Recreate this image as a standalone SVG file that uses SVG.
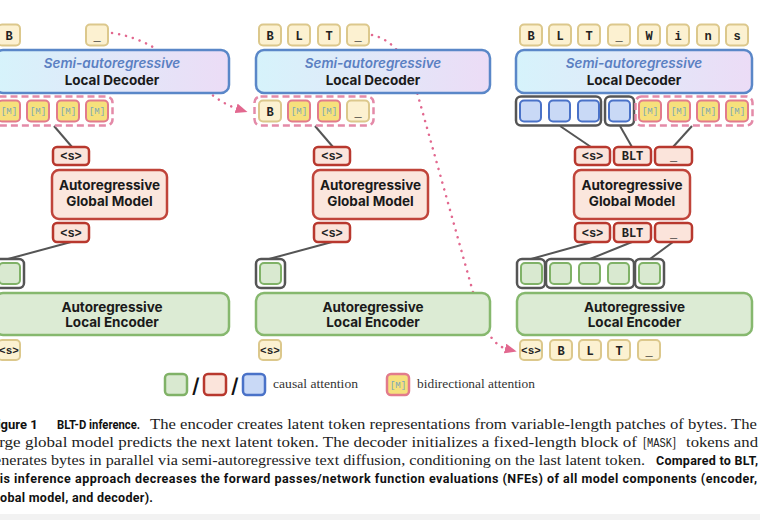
<svg xmlns="http://www.w3.org/2000/svg" width="760" height="520" viewBox="0 0 760 520">
<defs>
<linearGradient id="dg" x1="0" y1="0" x2="1" y2="0">
<stop offset="0" stop-color="#d6f3fb"/>
<stop offset="1" stop-color="#ecdcf6"/>
</linearGradient>
<marker id="ah" viewBox="0 0 12 10" refX="2" refY="5" markerWidth="12" markerHeight="10" markerUnits="userSpaceOnUse" orient="auto">
<path d="M0,0 L12,5 L0,10 z" fill="#e2688f"/>
</marker>
<style>
.tok{fill:#fcf1d1;stroke:#dcc88c;stroke-width:2}
.msk{fill:#f6e07c;stroke:#e27b8c;stroke-width:2}
.red{fill:#fbe4db;stroke:#b8382e;stroke-width:2.5}
.grn{fill:#d9e9d0;stroke:#80b267;stroke-width:2}
.blu{fill:#c9d9f6;stroke:#4a72c8;stroke-width:2}
.grp{fill:none;stroke:#555;stroke-width:2.5}
.dash{fill:none;stroke:#e48aa8;stroke-width:2.5;stroke-dasharray:7 4}
.dec{fill:url(#dg);stroke:#5a87c8;stroke-width:2.5}
.glob{fill:#fbe6dd;stroke:#c0443a;stroke-width:2.5}
.enc{fill:#dcebd4;stroke:#86b86e;stroke-width:2.5}
.tt{font-family:"Liberation Mono",monospace;font-weight:bold;font-size:12px;fill:#222;text-anchor:middle}
.mt{font-family:"Liberation Mono",monospace;font-size:9px;fill:#78a7b8;text-anchor:middle}
.lab{font-family:Inter,"DejaVu Sans",sans-serif;font-weight:700;font-size:13.5px;fill:#1a1a1a;text-anchor:middle}
.ital{font-style:italic;font-weight:600;fill:#5b80c2}
.link{stroke:#555;stroke-width:2;fill:none}
.dot{stroke:#e2688f;stroke-width:2.5;stroke-dasharray:0.1 7;stroke-linecap:round;fill:none}
.ser{font-family:"Liberation Serif",serif;font-size:15px;fill:#222}
.bs{font-family:Roboto,"Liberation Sans",sans-serif;font-weight:700;font-size:12.5px;fill:#111}
.leg{font-family:"Liberation Serif",serif;font-size:12.5px;fill:#333}
</style>
</defs>
<rect x="0" y="0" width="760" height="520" fill="#ffffff"/>
<rect x="0" y="514" width="760" height="6" fill="#f2f2f2"/>

<!-- connectors -->
<g id="connectors">
<line class="link" x1="54" y1="126" x2="72" y2="147"/>
<line class="link" x1="71" y1="242" x2="8" y2="259"/>
<line class="link" x1="315" y1="126" x2="333" y2="147"/>
<line class="link" x1="332" y1="242" x2="269" y2="259"/>
<line class="link" x1="560" y1="126" x2="591" y2="147"/>
<line class="link" x1="620" y1="126" x2="632" y2="147"/>
<line class="link" x1="692" y1="126" x2="673" y2="147"/>
<line class="link" x1="592" y1="242" x2="531" y2="259"/>
<line class="link" x1="632" y1="242" x2="590" y2="259"/>
<line class="link" x1="673" y1="242" x2="650" y2="259"/>
<path class="dot" d="M112,33 C175,42 195,95 238,109" marker-end="url(#ah)"/>
<path class="dot" d="M372,35 C395,40 408,62 415,85 L478,310 C486,333 495,346 507,349" marker-end="url(#ah)"/>
</g>

<!-- LEFT COLUMN -->
<g id="L-out">
<rect class="tok" x="-2" y="24.5" width="22" height="21" rx="4"/><text class="tt" x="9" y="39.5">B</text>
<rect class="tok" x="86" y="24.5" width="22" height="21" rx="4"/><text class="tt" x="97" y="39.5">_</text>
</g>
<g id="L-decoder">
<rect class="dec" x="-5" y="50" width="234" height="43" rx="8"/>
<text class="lab ital" x="112" y="68">Semi-autoregressive</text>
<text class="lab" x="112" y="85">Local Decoder</text>
</g>
<g id="L-mask">
<rect class="dash" x="-6.5" y="96.5" width="119" height="29" rx="6"/>
<rect class="msk" x="-2" y="100.5" width="22" height="21" rx="4"/><text class="mt" x="9" y="114">[M]</text>
<rect class="msk" x="27" y="100.5" width="22" height="21" rx="4"/><text class="mt" x="38" y="114">[M]</text>
<rect class="msk" x="57" y="100.5" width="22" height="21" rx="4"/><text class="mt" x="68" y="114">[M]</text>
<rect class="msk" x="86" y="100.5" width="22" height="21" rx="4"/><text class="mt" x="97" y="114">[M]</text>
</g>
<g id="L-s1"><rect class="red" x="53" y="147" width="36" height="18" rx="4"/><text class="tt" x="71" y="160">&lt;s&gt;</text></g>
<g id="L-global">
<rect class="glob" x="52" y="170" width="115" height="49" rx="7"/>
<text class="lab" x="109.5" y="190">Autoregressive</text>
<text class="lab" x="109.5" y="206">Global Model</text>
</g>
<g id="L-s2"><rect class="red" x="53" y="223" width="36" height="19" rx="4"/><text class="tt" x="71" y="236.5">&lt;s&gt;</text></g>
<g id="L-latent">
<rect class="grp" x="-5" y="259" width="29" height="29" rx="5"/>
<rect class="grn" x="-1" y="263" width="21" height="21" rx="4"/>
</g>
<g id="L-encoder">
<rect class="enc" x="-5" y="293" width="234" height="42" rx="8"/>
<text class="lab" x="112" y="312">Autoregressive</text>
<text class="lab" x="112" y="327">Local Encoder</text>
</g>
<g id="L-in"><rect class="tok" x="-2" y="340" width="22" height="20" rx="4"/><text class="tt" x="9" y="354" style="font-size:11px">&lt;s&gt;</text></g>

<!-- MIDDLE COLUMN -->
<g id="M-out">
<rect class="tok" x="259" y="24.5" width="22" height="21" rx="4"/><text class="tt" x="270" y="39.5">B</text>
<rect class="tok" x="288" y="24.5" width="22" height="21" rx="4"/><text class="tt" x="299" y="39.5">L</text>
<rect class="tok" x="318" y="24.5" width="22" height="21" rx="4"/><text class="tt" x="329" y="39.5">T</text>
<rect class="tok" x="347" y="24.5" width="22" height="21" rx="4"/><text class="tt" x="358" y="39.5">_</text>
</g>
<g id="M-decoder">
<rect class="dec" x="256" y="50" width="234" height="43" rx="8"/>
<text class="lab ital" x="373" y="68">Semi-autoregressive</text>
<text class="lab" x="373" y="85">Local Decoder</text>
</g>
<g id="M-mask">
<rect class="dash" x="254.5" y="96.5" width="119" height="29" rx="6"/>
<rect class="tok" x="259" y="100.5" width="22" height="21" rx="4"/><text class="tt" x="270" y="115.5">B</text>
<rect class="msk" x="288" y="100.5" width="22" height="21" rx="4"/><text class="mt" x="299" y="114">[M]</text>
<rect class="msk" x="318" y="100.5" width="22" height="21" rx="4"/><text class="mt" x="329" y="114">[M]</text>
<rect class="tok" x="347" y="100.5" width="22" height="21" rx="4"/><text class="tt" x="358" y="115.5">_</text>
</g>
<g id="M-s1"><rect class="red" x="314" y="147" width="36" height="18" rx="4"/><text class="tt" x="332" y="160">&lt;s&gt;</text></g>
<g id="M-global">
<rect class="glob" x="313" y="170" width="115" height="49" rx="7"/>
<text class="lab" x="370.5" y="190">Autoregressive</text>
<text class="lab" x="370.5" y="206">Global Model</text>
</g>
<g id="M-s2"><rect class="red" x="314" y="223" width="36" height="19" rx="4"/><text class="tt" x="332" y="236.5">&lt;s&gt;</text></g>
<g id="M-latent">
<rect class="grp" x="256" y="259" width="29" height="29" rx="5"/>
<rect class="grn" x="260" y="263" width="21" height="21" rx="4"/>
</g>
<g id="M-encoder">
<rect class="enc" x="256" y="293" width="234" height="42" rx="8"/>
<text class="lab" x="373" y="312">Autoregressive</text>
<text class="lab" x="373" y="327">Local Encoder</text>
</g>
<g id="M-in"><rect class="tok" x="259" y="340" width="22" height="20" rx="4"/><text class="tt" x="270" y="354" style="font-size:11px">&lt;s&gt;</text></g>

<!-- RIGHT COLUMN -->
<g id="R-out">
<rect class="tok" x="520" y="24.5" width="22" height="21" rx="4"/><text class="tt" x="531" y="39.5">B</text>
<rect class="tok" x="549" y="24.5" width="22" height="21" rx="4"/><text class="tt" x="560" y="39.5">L</text>
<rect class="tok" x="578" y="24.5" width="22" height="21" rx="4"/><text class="tt" x="589" y="39.5">T</text>
<rect class="tok" x="608" y="24.5" width="22" height="21" rx="4"/><text class="tt" x="619" y="39.5">_</text>
<rect class="tok" x="638" y="24.5" width="22" height="21" rx="4"/><text class="tt" x="649" y="39.5">W</text>
<rect class="tok" x="667" y="24.5" width="22" height="21" rx="4"/><text class="tt" x="678" y="39.5">i</text>
<rect class="tok" x="697" y="24.5" width="22" height="21" rx="4"/><text class="tt" x="708" y="39.5">n</text>
<rect class="tok" x="726" y="24.5" width="22" height="21" rx="4"/><text class="tt" x="737" y="39.5">s</text>
</g>
<g id="R-decoder">
<rect class="dec" x="516" y="50" width="236" height="43" rx="8"/>
<text class="lab ital" x="634" y="68">Semi-autoregressive</text>
<text class="lab" x="634" y="85">Local Decoder</text>
</g>
<g id="R-row">
<rect class="grp" x="516" y="96.5" width="85" height="29" rx="5"/>
<rect class="blu" x="520" y="100.5" width="21" height="21" rx="4"/>
<rect class="blu" x="549" y="100.5" width="21" height="21" rx="4"/>
<rect class="blu" x="578" y="100.5" width="21" height="21" rx="4"/>
<rect class="grp" x="605" y="96.5" width="29" height="29" rx="5"/>
<rect class="blu" x="609" y="100.5" width="21" height="21" rx="4"/>
<rect class="dash" x="635.5" y="96.5" width="117" height="29" rx="6"/>
<rect class="msk" x="639" y="100.5" width="22" height="21" rx="4"/><text class="mt" x="650" y="114">[M]</text>
<rect class="msk" x="668" y="100.5" width="22" height="21" rx="4"/><text class="mt" x="679" y="114">[M]</text>
<rect class="msk" x="697" y="100.5" width="22" height="21" rx="4"/><text class="mt" x="708" y="114">[M]</text>
<rect class="msk" x="726" y="100.5" width="22" height="21" rx="4"/><text class="mt" x="737" y="114">[M]</text>
</g>
<g id="R-top-latents">
<rect class="red" x="575" y="147" width="35" height="18" rx="4"/><text class="tt" x="592.5" y="160">&lt;s&gt;</text>
<rect class="red" x="614" y="147" width="37" height="18" rx="4"/><text class="tt" x="632.5" y="160">BLT</text>
<rect class="red" x="655" y="147" width="37" height="18" rx="4"/><text class="tt" x="673.5" y="160">_</text>
</g>
<g id="R-global">
<rect class="glob" x="574" y="170" width="116" height="49" rx="7"/>
<text class="lab" x="632" y="190">Autoregressive</text>
<text class="lab" x="632" y="206">Global Model</text>
</g>
<g id="R-bot-latents">
<rect class="red" x="575" y="223" width="35" height="19" rx="4"/><text class="tt" x="592.5" y="236.5">&lt;s&gt;</text>
<rect class="red" x="614" y="223" width="37" height="19" rx="4"/><text class="tt" x="632.5" y="236.5">BLT</text>
<rect class="red" x="655" y="223" width="37" height="19" rx="4"/><text class="tt" x="673.5" y="236.5">_</text>
</g>
<g id="R-patches">
<rect class="grp" x="517" y="259" width="28" height="29" rx="5"/>
<rect class="grn" x="521" y="263" width="21" height="21" rx="4"/>
<rect class="grp" x="546" y="259" width="88" height="29" rx="5"/>
<rect class="grn" x="550" y="263" width="21" height="21" rx="4"/>
<rect class="grn" x="579" y="263" width="21" height="21" rx="4"/>
<rect class="grn" x="608" y="263" width="21" height="21" rx="4"/>
<rect class="grp" x="635" y="259" width="29" height="29" rx="5"/>
<rect class="grn" x="639" y="263" width="21" height="21" rx="4"/>
</g>
<g id="R-encoder">
<rect class="enc" x="517" y="293" width="235" height="42" rx="8"/>
<text class="lab" x="634.5" y="312">Autoregressive</text>
<text class="lab" x="634.5" y="327">Local Encoder</text>
</g>
<g id="R-in">
<rect class="tok" x="520" y="340" width="22" height="20" rx="4"/><text class="tt" x="531" y="354" style="font-size:11px">&lt;s&gt;</text>
<rect class="tok" x="550" y="340" width="22" height="20" rx="4"/><text class="tt" x="561" y="354.5">B</text>
<rect class="tok" x="579" y="340" width="22" height="20" rx="4"/><text class="tt" x="590" y="354.5">L</text>
<rect class="tok" x="608" y="340" width="22" height="20" rx="4"/><text class="tt" x="619" y="354.5">T</text>
<rect class="tok" x="638" y="340" width="22" height="20" rx="4"/><text class="tt" x="649" y="354.5">_</text>
</g>

<!-- LEGEND -->
<g id="legend">
<rect x="165" y="374" width="22" height="21" rx="4" fill="#d9e9d0" stroke="#80b267" stroke-width="2.5"/>
<text x="192" y="393" font-family="Inter,'DejaVu Sans',sans-serif" font-weight="600" font-size="20" fill="#111">/</text>
<rect x="204" y="374" width="22" height="21" rx="4" fill="#fbe4db" stroke="#b8382e" stroke-width="2.5"/>
<text x="231" y="393" font-family="Inter,'DejaVu Sans',sans-serif" font-weight="600" font-size="20" fill="#111">/</text>
<rect x="243" y="374" width="22" height="21" rx="4" fill="#c9d9f6" stroke="#4a72c8" stroke-width="2.5"/>
<text class="leg" x="273" y="388" textLength="85" lengthAdjust="spacingAndGlyphs">causal attention</text>
<rect class="msk" x="387" y="374" width="22" height="21" rx="4" style="stroke-width:2.5"/><text class="mt" x="398" y="388">[M]</text>
<text class="leg" x="417" y="388" textLength="118" lengthAdjust="spacingAndGlyphs">bidirectional attention</text>
</g>

<!-- CAPTION -->
<g id="caption">
<text class="bs" x="-10" y="429" style="font-size:13px">Figure 1</text>
<text class="bs" x="57" y="429" style="font-size:13px" textLength="83" lengthAdjust="spacingAndGlyphs">BLT-D inference.</text>
<text class="ser" x="150" y="429" textLength="607" lengthAdjust="spacingAndGlyphs">The encoder creates latent token representations from variable-length patches of bytes. The</text>
<text class="ser" x="-13" y="447" textLength="650" lengthAdjust="spacingAndGlyphs">large global model predicts the next latent token. The decoder initializes a fixed-length block of</text>
<text class="ser" x="643" y="447" textLength="33" lengthAdjust="spacingAndGlyphs">[<tspan font-family="Liberation Mono, monospace" font-size="13">MASK</tspan>]</text>
<text class="ser" x="686" y="447" textLength="72" lengthAdjust="spacingAndGlyphs">tokens and</text>
<text class="ser" x="-14" y="465" textLength="659" lengthAdjust="spacingAndGlyphs">generates bytes in parallel via semi-autoregressive text diffusion, conditioning on the last latent token.</text>
<text class="bs" x="656" y="465" textLength="102" lengthAdjust="spacing">Compared to BLT,</text>
<text class="bs" x="-16" y="483" textLength="773" lengthAdjust="spacing">This inference approach decreases the forward passes/network function evaluations (NFEs) of all model components (encoder,</text>
<text class="bs" x="-11" y="502" textLength="164" lengthAdjust="spacing">global model, and decoder).</text>
</g>
</svg>
